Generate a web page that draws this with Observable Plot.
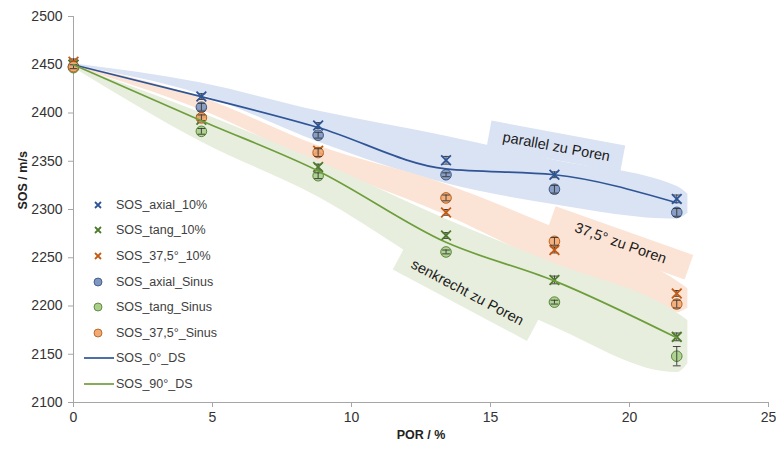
<!DOCTYPE html>
<html>
<head>
<meta charset="utf-8">
<script src="https://cdn.jsdelivr.net/npm/d3@7"></script>
<script src="https://cdn.jsdelivr.net/npm/@observablehq/plot@0.6"></script>
<style>
  html, body { margin: 0; padding: 0; background: #fff; }
  #wrap { position: relative; width: 776px; height: 449px; font-family: "Liberation Sans", Arial, sans-serif; }
  #legend { position: absolute; left: 82px; top: 192px; font-size: 12.5px; color: #404040; }
  #legend .row { height: 25.6px; display: flex; align-items: center; }
  #legend svg { width: 32px; height: 14px; margin-right: 2px; }
</style>
</head>
<body>
<div id="wrap"><div id="chart"></div><div id="legend"></div></div>
<script>
// ---- data ----
const por = [0, 4.6, 8.8, 13.4, 17.3, 21.7];

const sosAxial10 = [2450, 2417, 2387, 2351, 2336, 2311];
const sosTang10  = [2450, 2393, 2344, 2273, 2227, 2168];
const sos375_10  = [2453, 2400, 2361, 2297, 2258, 2213];
const sosAxialSinus = [2448, 2406, 2377, 2336, 2321, 2297];
const sosTangSinus  = [2447, 2381, 2335, 2256, 2204, 2148];
const sos375Sinus   = [2448, 2395, 2359, 2312, 2267, 2202];

const errAxial10 = [3, 3, 3, 4, 3, 4];
const errTang10  = [3, 3, 3, 3, 4, 4];
const err375_10  = [3, 3, 3, 3, 3, 3];
const errAxialSinus = [2, 4, 3, 2, 4, 4];
const errTangSinus  = [2, 3, 3, 2, 2, 10];
const err375Sinus   = [2, 3, 4, 3, 4, 4];

const sos0DS  = [2450, 2417, 2385, 2342, 2336, 2307];
const sos90DS = [2450, 2392, 2340, 2266, 2226, 2167];

// shaded bands (x, upper, lower)
const bandX = [0, 4.6, 8.8, 13.4, 17.3, 21.7, 22.1];
const bandParallelHi = [2451, 2431, 2402, 2376, 2351, 2324, 2316];
const bandParallelLo = [2449, 2419, 2370, 2327, 2305, 2290, 2296];
const band375Hi = [2450, 2416, 2366, 2326, 2281, 2226, 2218];
const band375Lo = [2448, 2403, 2347, 2294, 2241, 2193, 2198];
const bandSenkHi = [2449, 2400, 2350, 2290, 2244, 2193, 2185];
const bandSenkLo = [2447, 2370, 2313, 2232, 2178, 2131, 2140];

// band labels
const labelText  = ["parallel zu Poren", "37,5° zu Poren", "senkrecht zu Poren"];
const labelX     = [17.37, 19.68, 14.17];
const labelY     = [2365, 2265, 2214];
const labelAngle = [10.5, 19.5, 28];

const xTicks = [0, 5, 10, 15, 20, 25];
const yTicks = [2100, 2150, 2200, 2250, 2300, 2350, 2400, 2450, 2500];

const seriesNames = ["SOS_axial_10%", "SOS_tang_10%", "SOS_37,5°_10%", "SOS_axial_Sinus", "SOS_tang_Sinus", "SOS_37,5°_Sinus", "SOS_0°_DS", "SOS_90°_DS"];

// ---- styles ----
const C = {
  blueBand: "#dae3f3", orangeBand: "#fbe4d5", greenBand: "#e7eedd",
  blueX: "#2e5597", greenX: "#4f7a2c", orangeX: "#c55a11",
  blueFill: "#7f96c0", blueStroke: "#2f4d7a",
  greenFill: "#a9cf8a", greenStroke: "#4f7a2c",
  orangeFill: "#f2aa74", orangeStroke: "#b0560f",
  line0: "#2f5597", line90: "#6e9e3c"
};

const mk = (ys, es) => por.map((x, i) => ({x, y: ys[i], e: es ? es[i] : 0}));
const band = (hi, lo) => bandX.map((x, i) => ({x, hi: hi[i], lo: lo[i]}));
const labels = labelText.map((t, i) => ({text: t, x: labelX[i], y: labelY[i], a: labelAngle[i]}));
const boxFill = [C.blueBand, C.orangeBand, C.greenBand];
const boxSize = [[136, 27], [146, 26], [152, 30]];

const sets = [
  {d: mk(sosAxial10, errAxial10), kind: "x", color: C.blueX},
  {d: mk(sosTang10, errTang10), kind: "x", color: C.greenX},
  {d: mk(sos375_10, err375_10), kind: "x", color: C.orangeX},
  {d: mk(sosAxialSinus, errAxialSinus), kind: "o", fill: C.blueFill, color: C.blueStroke},
  {d: mk(sosTangSinus, errTangSinus), kind: "o", fill: C.greenFill, color: C.greenStroke},
  {d: mk(sos375Sinus, err375Sinus), kind: "o", fill: C.orangeFill, color: C.orangeStroke}
];

const capW = 0.14;
const errMarks = (s) => [
  Plot.ruleX(s.d, {x: "x", y1: d => d.y - d.e, y2: d => d.y + d.e, stroke: "#333", strokeWidth: 0.9}),
  Plot.link(s.d, {x1: d => d.x - capW, x2: d => d.x + capW, y1: d => d.y - d.e, y2: d => d.y - d.e, stroke: "#333", strokeWidth: 0.9}),
  Plot.link(s.d, {x1: d => d.x - capW, x2: d => d.x + capW, y1: d => d.y + d.e, y2: d => d.y + d.e, stroke: "#333", strokeWidth: 0.9})
];

const boxMark = (index, scales) => {
  const g = d3.create("svg:g");
  labels.forEach((l, i) => {
    const px = scales.x(l.x), py = scales.y(l.y);
    const [w, h] = boxSize[i];
    g.append("rect")
      .attr("x", -w / 2).attr("y", -h / 2).attr("width", w).attr("height", h)
      .attr("fill", boxFill[i])
      .attr("transform", `translate(${px},${py}) rotate(${l.a})`);
  });
  return g.node();
};

const marks = [
  Plot.areaY(band(bandParallelHi, bandParallelLo), {x: "x", y1: "lo", y2: "hi", fill: C.blueBand, curve: "monotone-x"}),
  Plot.areaY(band(band375Hi, band375Lo), {x: "x", y1: "lo", y2: "hi", fill: C.orangeBand, curve: "monotone-x"}),
  Plot.areaY(band(bandSenkHi, bandSenkLo), {x: "x", y1: "lo", y2: "hi", fill: C.greenBand, curve: "monotone-x"}),
  boxMark,
  Plot.text(labels, {x: "x", y: "y", text: "text", rotate: "a", fontSize: 14.5, fill: "#1a1a1a", fontFamily: "Liberation Sans, Arial, sans-serif"}),
  Plot.ruleY([2100], {stroke: "#a6a6a6"}),
  Plot.ruleX([0], {stroke: "#a6a6a6"}),
  Plot.axisX({ticks: xTicks, tickSize: 5, tickPadding: 5, fontSize: 14, stroke: "#a6a6a6", color: "#333", label: null, tickFormat: d => String(d)}),
  Plot.axisY({ticks: yTicks, tickSize: 5, tickPadding: 6, fontSize: 14, stroke: "#a6a6a6", color: "#333", label: null, tickFormat: d => String(d)}),
  Plot.text(["POR / %"], {frameAnchor: "bottom", dy: 36, fontWeight: "bold", fontSize: 12.5, fill: "#222"}),
  Plot.text(["SOS / m/s"], {frameAnchor: "left", dx: -51, rotate: -90, fontWeight: "bold", fontSize: 12.5, fill: "#222"})
];

for (const s of sets.slice(0, 3)) {
  marks.push(...errMarks(s));
  marks.push(Plot.dot(s.d, {x: "x", y: "y", symbol: "times", r: 4.5, stroke: s.color, strokeWidth: 1.8}));
}
for (const s of sets.slice(3)) {
  marks.push(Plot.dot(s.d, {x: "x", y: "y", r: 5.3, fill: s.fill, fillOpacity: 0.9, stroke: s.color, strokeWidth: 0.9}));
  marks.push(...errMarks(s));
}
marks.push(Plot.line(por.map((x, i) => ({x, y: sos0DS[i]})), {x: "x", y: "y", stroke: C.line0, strokeWidth: 1.7, curve: "monotone-x"}));
marks.push(Plot.line(por.map((x, i) => ({x, y: sos90DS[i]})), {x: "x", y: "y", stroke: C.line90, strokeWidth: 1.7, curve: "monotone-x"}));

const chart = Plot.plot({
  width: 776, height: 449,
  marginLeft: 73, marginRight: 8, marginTop: 16, marginBottom: 47,
  x: {domain: [0, 25]},
  y: {domain: [2100, 2500]},
  style: {fontFamily: "Liberation Sans, Arial, sans-serif", background: "#fff", overflow: "visible"},
  marks
});
document.getElementById("chart").appendChild(chart);

// ---- legend ----
const legendSym = [
  {kind: "x", color: C.blueX}, {kind: "x", color: C.greenX}, {kind: "x", color: C.orangeX},
  {kind: "o", fill: C.blueFill, color: C.blueStroke}, {kind: "o", fill: C.greenFill, color: C.greenStroke}, {kind: "o", fill: C.orangeFill, color: C.orangeStroke},
  {kind: "l", color: C.line0}, {kind: "l", color: C.line90}
];
const leg = d3.select("#legend");
seriesNames.forEach((name, i) => {
  const row = leg.append("div").attr("class", "row");
  const svg = row.append("svg");
  const s = legendSym[i];
  if (s.kind === "x") {
    svg.append("path").attr("d", "M13,4L19,10M19,4L13,10").attr("stroke", s.color).attr("stroke-width", 1.8);
  } else if (s.kind === "o") {
    svg.append("circle").attr("cx", 16).attr("cy", 7).attr("r", 4).attr("fill", s.fill).attr("stroke", s.color).attr("stroke-width", 0.8);
  } else {
    svg.append("line").attr("x1", 2).attr("x2", 32).attr("y1", 7).attr("y2", 7).attr("stroke", s.color).attr("stroke-width", 1.7);
  }
  row.append("span").text(name);
});
</script>
</body>
</html>
